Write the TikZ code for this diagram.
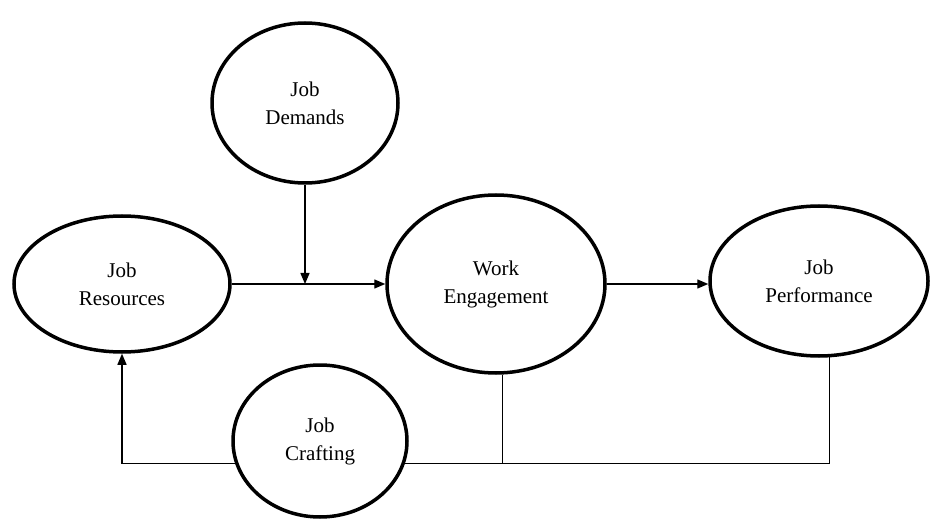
\documentclass[tikz,border=0pt]{standalone}
\usepackage{fontspec}
\setmainfont{Liberation Serif}
\usetikzlibrary{arrows.meta,shapes.geometric}
\tikzset{
  oval/.style={ellipse,draw=black,line width=3.5pt,inner sep=0pt,align=center,
    font=\fontsize{21}{28}\selectfont},
  conn/.style={line width=1.4pt,draw=black},
  arr/.style={conn,-{Triangle[length=11pt,width=9pt]}}
}
\begin{document}
\begin{tikzpicture}[x=1pt,y=-1pt]
\useasboundingbox (0,0) rectangle (934,521);
\node[oval,minimum width=186pt,minimum height=160pt] (JD) at (305,103) {Job\\Demands};
\node[oval,minimum width=216pt,minimum height=136pt] (JR) at (122,284) {Job\\Resources};
\node[oval,minimum width=218pt,minimum height=178pt] (WE) at (496,284) {Work\\Engagement};
\node[oval,minimum width=218pt,minimum height=150pt] (JP) at (819,281) {Job\\Performance};
\node[oval,minimum width=174pt,minimum height=152pt] (JC) at (320,441) {Job\\Crafting};
\coordinate (M) at (JD.south |- JR.east);
\coordinate (B) at (WE.-86 |- JC.-15);
\draw[arr] (JR.east) -- (WE.west);
\draw[arr] (JD.south) -- (M);
\draw[arr] (WE.east) -- (WE.east -| JP.west);
\draw[arr] (JC.195) -| (JR.south);
\draw[conn] (JC.-15) -| (JP.-82);
\draw[conn] (WE.-86) -- (B);
\end{tikzpicture}
\end{document}
